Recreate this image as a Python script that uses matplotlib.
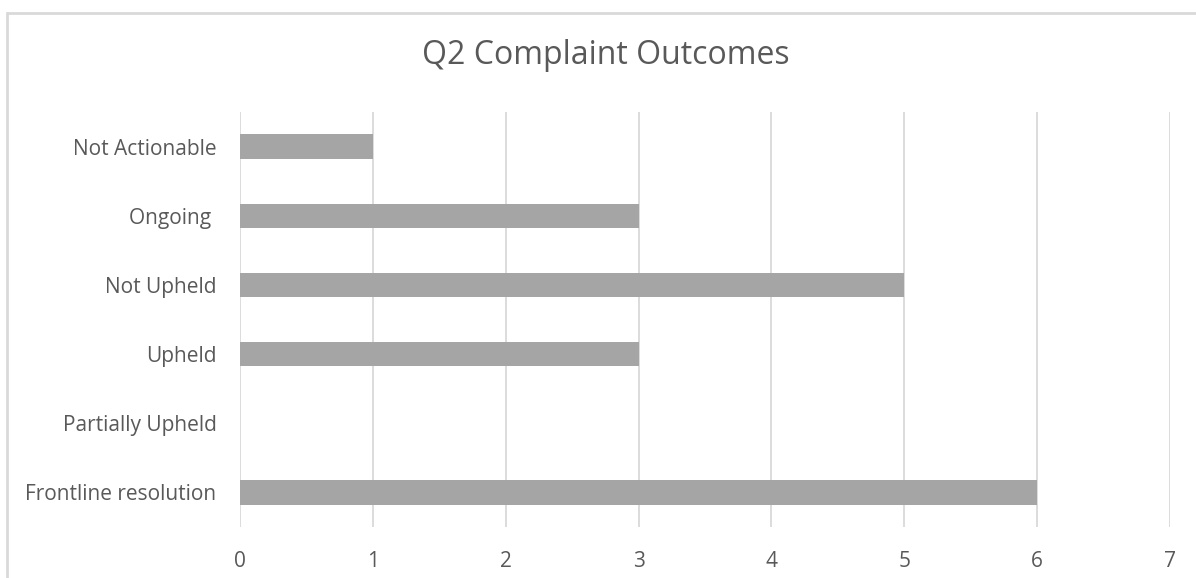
import matplotlib
matplotlib.use("Agg")
import matplotlib.pyplot as plt
from matplotlib.patches import Rectangle

# data
categories = ["Frontline resolution", "Partially Upheld", "Upheld", "Not Upheld", "Ongoing ", "Not Actionable"]
counts = [6, 0, 3, 5, 3, 1]
x_ticks = [0, 1, 2, 3, 4, 5, 6, 7]

text_grey = "#595959"
bar_grey = "#A5A5A5"
grid_grey = "#D9D9D9"

plt.rcParams["font.family"] = ["Open Sans", "DejaVu Sans"]

W, H = 1196, 578
fig = plt.figure(figsize=(W / 100, H / 100), dpi=100)

# chart area border (runs off the right and bottom edge)
fig.patches.append(Rectangle((7 / W, -0.1), 1.2, 1 - 13 / H + 0.1, transform=fig.transFigure,
                             fill=False, edgecolor=grid_grey, linewidth=2))

ax = fig.add_axes([240 / W, 1 - 527 / H, (1170 - 240) / W, (527 - 112) / H])
ax.barh(range(len(categories)), counts, height=0.35, color=bar_grey, zorder=3)
ax.set_xlim(0, 7)
ax.set_ylim(-0.5, len(categories) - 0.5)
ax.set_xticks(x_ticks)
ax.set_yticks(range(len(categories)))
ax.set_yticklabels(categories)
ax.grid(axis="x", color=grid_grey, linewidth=1.3, zorder=0)
for s in ax.spines.values():
    s.set_visible(False)
ax.tick_params(axis="both", length=0, labelsize=15, colors=text_grey)
ax.tick_params(axis="y", pad=17)
ax.tick_params(axis="x", pad=17)

fig.text(606 / W, 1 - 64 / H, "Q2 Complaint Outcomes", ha="center", va="baseline",
         fontsize=23, color=text_grey)

fig.savefig("out.png", dpi=100, facecolor="white")
